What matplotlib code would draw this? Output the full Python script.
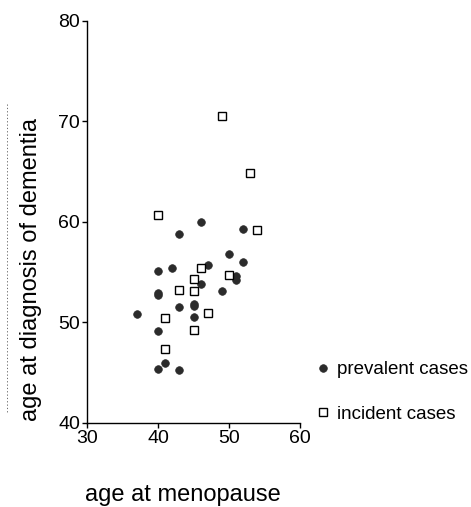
import matplotlib
matplotlib.use('Agg')
import matplotlib.pyplot as plt
from matplotlib.lines import Line2D

plt.rcParams['font.family'] = ['Liberation Sans', 'DejaVu Sans']

# prevalent cases: age at menopause / age at diagnosis
prev_x = [46, 43, 52, 50, 52, 40, 42, 47, 51, 51, 46, 49, 40, 40, 45, 45, 43, 37, 45, 40, 41, 40, 43]
prev_y = [60.0, 58.8, 59.3, 56.8, 56.0, 55.1, 55.4, 55.7, 54.6, 54.2, 53.8, 53.1, 52.7, 52.9,
          51.8, 51.6, 51.5, 50.8, 50.5, 49.1, 46.0, 45.4, 45.3]

# incident cases
inc_x = [49, 53, 40, 54, 46, 50, 45, 43, 45, 47, 41, 45, 41]
inc_y = [70.5, 64.9, 60.7, 59.2, 55.4, 54.7, 54.3, 53.2, 53.1, 50.9, 50.4, 49.2, 47.4]

xticks = [30, 40, 50, 60]
yticks = [40, 50, 60, 70, 80]

fig = plt.figure(figsize=(4.71, 5.07), dpi=100)
ax = fig.add_axes([0.1847, 0.1657, 0.4523, 0.7935])

ax.plot(prev_x, prev_y, 'o', ms=5.5, color='#2b2b2b', mec='#2b2b2b', mew=0.5,
        label='prevalent cases', clip_on=False)
ax.plot(inc_x, inc_y, 's', ms=5.6, mfc='white', mec='black', mew=1.0,
        label='incident cases', clip_on=False)

ax.set_xlim(30, 60)
ax.set_ylim(40, 80)
ax.set_xticks(xticks)
ax.set_yticks(yticks)
ax.spines['top'].set_visible(False)
ax.spines['right'].set_visible(False)
for s in ('left', 'bottom'):
    ax.spines[s].set_linewidth(1.0)
ax.tick_params(direction='out', length=3.5, width=1.0, labelsize=14, pad=1.5)

ax.set_xlabel('age at menopause', fontsize=17)
ax.set_ylabel('age at diagnosis of dementia', fontsize=17)
ax.xaxis.set_label_coords(0.448, -0.152)
ax.yaxis.set_label_coords(-0.212, 0.382)

ax.legend(loc='upper left', bbox_to_anchor=(0.669, 0.288), bbox_transform=fig.transFigure,
          frameon=False, fontsize=13.5, handlelength=0.8, handletextpad=0.37,
          labelspacing=1.47, borderaxespad=0, borderpad=0)

# faint dotted guide left of the y label
fig.add_artist(Line2D([7 / 471, 7 / 471], [1 - 104 / 507, 1 - 412 / 507],
                      transform=fig.transFigure, color='#555555', lw=0.6,
                      linestyle=(0, (1.5, 2.5))))

fig.savefig('out.png', dpi=100)
